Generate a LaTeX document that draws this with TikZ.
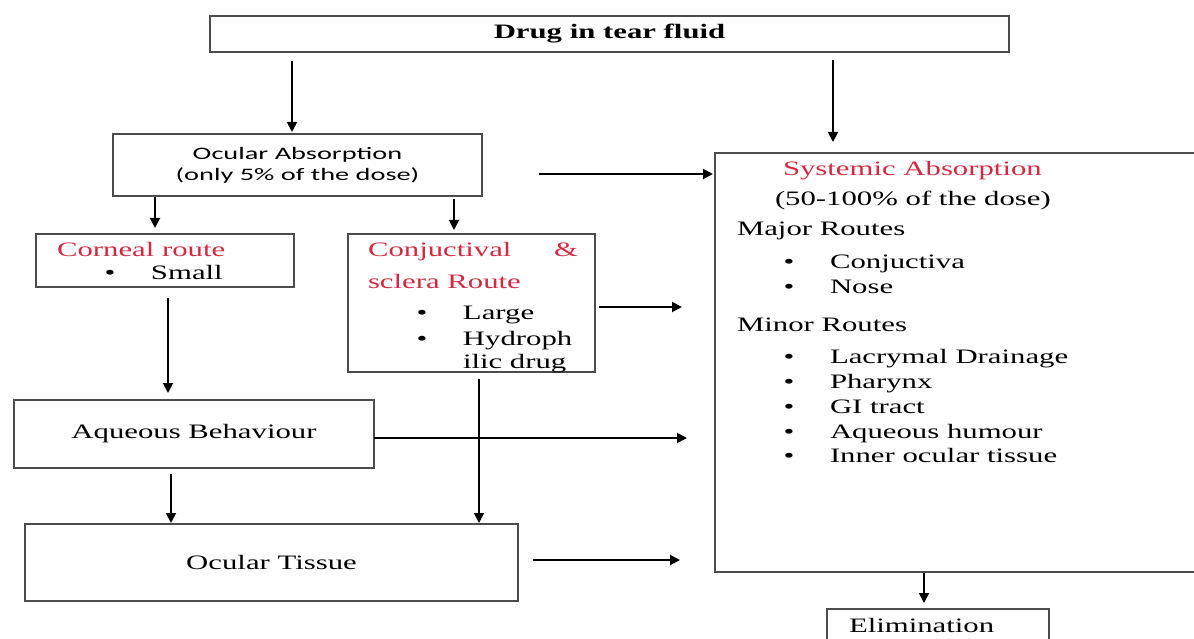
\documentclass[tikz,border=0pt]{standalone}
\usepackage{fontspec}
\usepackage{xcolor}
\usetikzlibrary{arrows.meta}
\setmainfont{Liberation Serif}[FakeStretch=1.5]
\newfontfamily\ocularfont{Carlito}[FakeStretch=1.62]
\definecolor{routered}{RGB}{214,40,64}
\newcommand{\blt}{\makebox[46.5pt][l]{\textbullet}}

\begin{document}
\begin{tikzpicture}[x=1pt,y=-1pt]
\tikzstyle{every node}+=[inner sep=0pt,outer sep=0pt,font=\fontsize{20.5}{25}\selectfont]
\tikzstyle{box}=[draw=black!70,line width=1.3pt,rectangle]
\tikzstyle{arr}=[-{Triangle[length=10pt,width=10pt]},line width=1.9pt]
\useasboundingbox (0,0) rectangle (1194,639);
\clip (0,0) rectangle (1194,639);
% boxes
\node [box,minimum width=799pt,minimum height=36pt] (drug) at (609.5,34) {\textbf{Drug in tear fluid}};
\node [box,minimum width=369pt,minimum height=62pt,align=center,font=\fontsize{17.5}{21}\ocularfont] (ocular) at (297.5,165) {Ocular Absorption\\(only 5\% of the dose)};
\node [box,minimum width=258pt,minimum height=53pt] (corneal) at (165,260.5) {};
\node [box,minimum width=247pt,minimum height=138pt] (conj) at (471.5,303) {};
\node [box,minimum width=360pt,minimum height=68pt] (aqueous) at (194,434) {Aqueous Behaviour};
\node [box,minimum width=493pt,minimum height=77pt] (tissue) at (271.5,562.5) {Ocular Tissue};
\node [box,minimum width=500pt,minimum height=419pt] (sys) at (965,362.5) {};
\node [box,minimum width=222pt,minimum height=51pt] (elim) at (938,634.5) {};
% texts in the boxes
\node [anchor=base west,text=routered] (cornealhead) at (57,256) {Corneal route};
\node [anchor=base west] (small) at (104.5,279) {\blt Small};
\node [anchor=base west,text=routered] (conjhead) at (368,256) {Conjuctival};
\node [anchor=base west,text=routered] (amp) at (554,256) {\&};
\node [anchor=base west,text=routered] (sclera) at (368,288) {sclera Route};
\node [anchor=base west] (large) at (416.5,319) {\blt Large};
\node [anchor=base west] (hydro) at (416.5,345) {\blt Hydroph};
\node [anchor=base west] (ilic) at (463,368) {ilic drug};
\node [anchor=base west,text=routered] (systitle) at (783,176) {Systemic Absorption};
\node [anchor=base west] (sysdose) at (775,206) {(50-100\% of the dose)};
\node [anchor=base west] (major) at (737,236) {Major Routes};
\node [anchor=base west] (major1) at (783.5,269) {\blt Conjuctiva};
\node [anchor=base west] (major2) at (783.5,293) {\blt Nose};
\node [anchor=base west] (minor) at (737,331) {Minor Routes};
\foreach \route [count=\i] in {Lacrymal Drainage,Pharynx,GI tract,Aqueous humour,Inner ocular tissue}
  \node [anchor=base west] (minor\i) at (783.5,339+24.75*\i) {\blt \route};
\node [anchor=base west] (elimtext) at (849,632) {Elimination};
% arrows
\draw [arr,shorten <=9pt,shorten >=2pt] (drug.south -| 292,0) -- (ocular.north -| 292,0);
\draw [arr,shorten <=8pt,shorten >=11pt] (drug.south -| 833,0) -- (sys.north -| 833,0);
\draw [arr,shorten <=57pt,shorten >=2pt] (ocular.east |- 0,174) -- (sys.west |- 0,174);
\draw [arr,shorten <=1pt,shorten >=6pt] (ocular.south -| 155,0) -- (corneal.north -| 155,0);
\draw [arr,shorten <=3pt,shorten >=4pt] (ocular.south -| 454,0) -- (conj.north -| 454,0);
\draw [arr,shorten <=4pt,shorten >=33pt] (conj.east |- 0,307) -- (sys.west |- 0,307);
\draw [arr,shorten <=11pt,shorten >=7pt] (corneal.south -| 168,0) -- (aqueous.north -| 168,0);
\draw [arr,shorten <=7pt,shorten >=1pt] (conj.south -| 479,0) -- (tissue.north -| 479,0);
\draw [arr,shorten >=28pt] (aqueous.east |- 0,438) -- (sys.west |- 0,438);
\draw [arr,shorten <=6pt,shorten >=1pt] (aqueous.south -| 171,0) -- (tissue.north -| 171,0);
\draw [arr,shorten <=15pt,shorten >=35pt] (tissue.east |- 0,560) -- (sys.west |- 0,560);
\draw [arr,shorten <=1pt,shorten >=6pt] (sys.south -| 924,0) -- (elim.north -| 924,0);
\end{tikzpicture}
\end{document}
